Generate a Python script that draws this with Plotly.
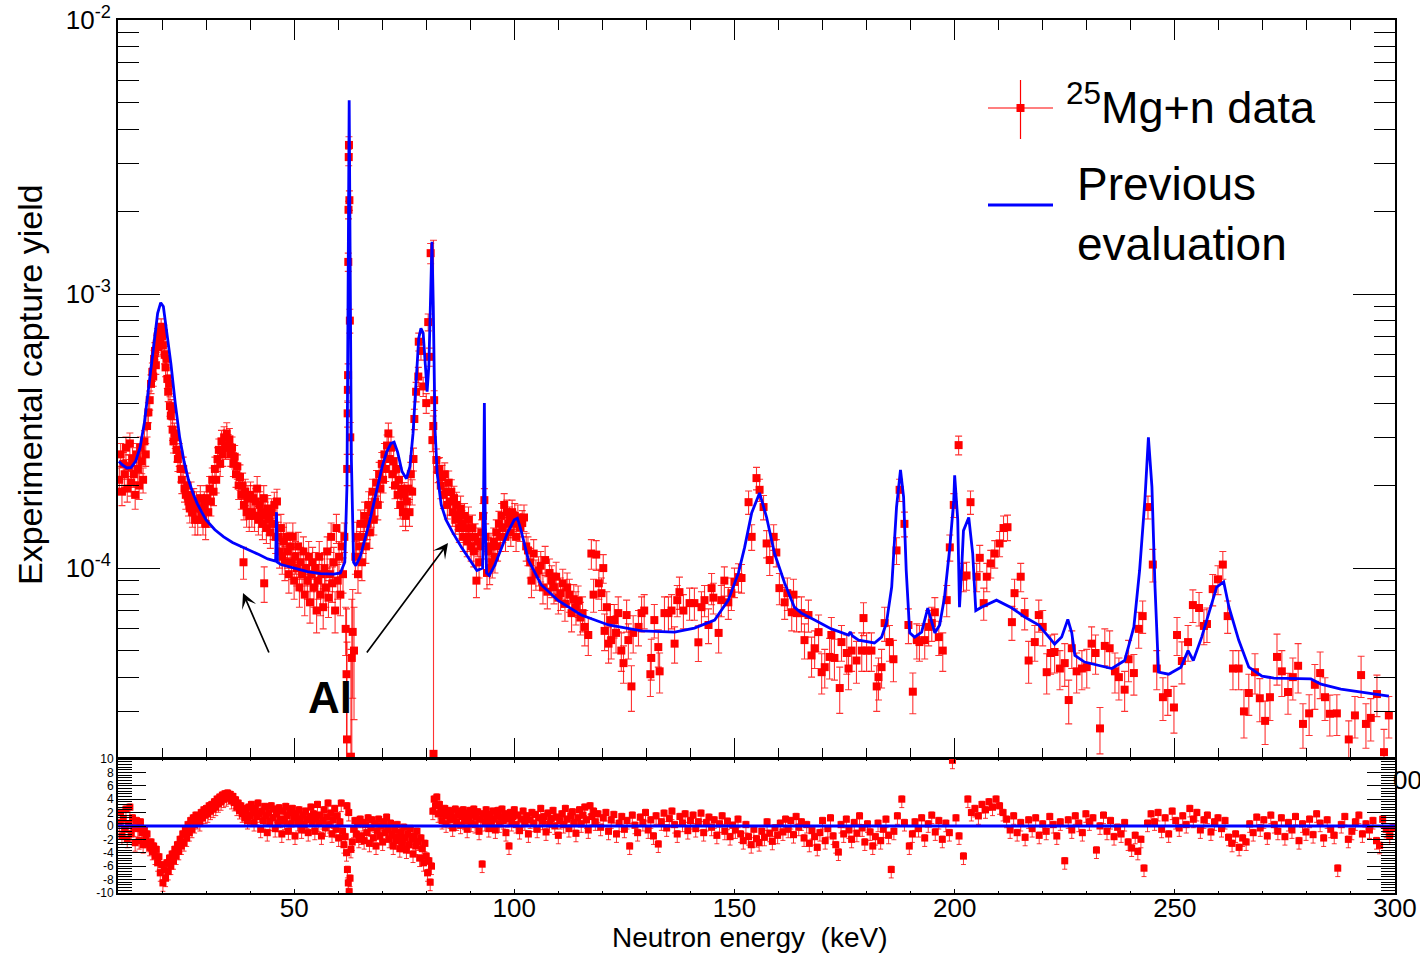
import plotly.graph_objects as go

# ---------------- 25Mg+n capture yield data (yield in units of 1e-4) ----------------
E1 = [10.3,10.6,10.9,11.2,11.5,11.8,12.1,12.4,12.7,13.0,
      13.3,13.6,13.9,14.2,14.5,14.8,15.1,15.4,15.7,16.0,
      16.3,16.6,16.9,17.2,17.5,17.8,18.0,18.2,18.4,18.6,
      18.8,19.0,19.2,19.4,19.6,19.8,20.0,20.2,20.4,20.6,
      20.8,21.0,21.2,21.4,21.6,21.8,22.0,22.2,22.4,22.6,
      22.8,23.0,23.3,23.6,23.9,24.2,24.5,24.8,25.1,25.4,
      25.7,26.0,26.3,26.6,26.9,27.2,27.5,27.8,28.1,28.4,
      28.7,29.0]
Y1 = [2.10,2.60,1.90,2.40,2.20,2.75,1.95,2.35,2.85,2.05,
      2.50,2.20,1.85,2.60,2.30,2.00,2.75,2.45,2.10,2.90,
      2.60,3.30,3.70,4.10,4.70,5.20,5.00,5.80,6.20,5.50,
      6.60,7.00,6.40,7.30,6.80,7.60,7.00,6.50,7.20,6.00,
      5.40,5.80,4.90,4.40,4.70,3.90,3.60,3.80,3.20,2.90,
      3.10,3.00,2.70,2.50,2.60,2.30,2.10,2.30,1.95,1.85,
      2.00,1.75,1.65,1.85,1.60,1.75,1.50,1.70,1.50,1.65,
      1.80,1.60]
D1 = [0.22,0.25,0.21,0.24,0.23,0.26,0.21,0.24,0.26,0.22,
      0.25,0.23,0.21,0.25,0.24,0.22,0.26,0.24,0.22,0.27,
      0.25,0.29,0.31,0.33,0.37,0.40,0.39,0.43,0.45,0.41,
      0.47,0.49,0.46,0.51,0.48,0.52,0.49,0.47,0.50,0.44,
      0.41,0.43,0.38,0.35,0.37,0.32,0.31,0.32,0.28,0.27,
      0.28,0.27,0.26,0.25,0.25,0.24,0.23,0.24,0.21,0.21,
      0.22,0.20,0.19,0.21,0.19,0.20,0.18,0.20,0.18,0.19,
      0.20,0.19]

E2 = [29.3,29.6,29.9,30.2,30.5,30.8,31.1,31.4,31.7,32.0,
      32.3,32.6,32.9,33.2,33.5,33.8,34.1,34.4,34.7,35.0,
      35.3,35.6,35.9,36.2,36.5,36.8,37.1,37.4,37.7,38.0,
      38.3,38.6,38.9,39.2,39.5,39.8,40.1,40.4,40.7,41.0,
      41.3,41.6,41.9,42.2,42.5,42.8,43.1,43.4,43.7,44.0,
      44.3,44.6,44.9,45.2,45.5,45.8,46.1,46.4,46.7,47.0,
      47.3,47.6,47.9,48.2,48.5,48.8,49.1,49.4,49.7,50.0,
      50.3,50.6,50.9,51.2,51.5,51.8,52.1,52.4,52.7,53.0,
      53.3,53.6,53.9,54.2,54.5,54.8,55.1,55.4,55.7,56.0,
      56.3,56.6,56.9,57.2,57.5,57.8,58.1,58.4,58.7,59.0,
      59.3,59.6,59.9,60.2,60.5,60.8,61.1,61.4,61.7,38.5,
      43.2]
Y2 = [1.50,1.70,1.45,1.80,1.60,1.95,1.75,2.10,1.90,2.30,
      2.10,2.50,2.70,2.40,2.90,2.60,3.00,2.75,3.10,2.80,
      2.95,2.60,2.75,2.40,2.55,2.20,2.35,2.00,2.15,1.85,
      2.00,1.70,1.90,1.60,1.80,1.55,1.85,1.60,1.80,1.55,
      1.75,1.95,1.50,1.70,1.60,1.45,1.80,1.55,1.40,1.65,
      1.50,1.35,1.60,1.45,1.70,1.30,1.75,1.30,1.15,1.40,
      1.10,1.25,1.05,1.30,1.15,0.95,1.20,1.05,1.30,0.90,
      1.10,1.00,1.20,0.85,1.05,0.95,1.15,0.80,1.00,0.90,
      1.10,0.75,0.95,1.05,0.85,1.00,0.70,0.90,1.10,0.80,
      0.95,0.72,1.00,0.85,1.15,0.78,0.95,1.30,0.88,1.05,
      0.70,1.40,0.90,1.10,0.80,1.20,0.95,1.30,0.60,1.05,
      0.88]
D2 = [0.18,0.20,0.18,0.20,0.19,0.21,0.20,0.22,0.21,0.24,
      0.22,0.25,0.26,0.24,0.28,0.25,0.28,0.26,0.29,0.27,
      0.28,0.25,0.26,0.24,0.25,0.23,0.24,0.22,0.23,0.21,
      0.22,0.20,0.21,0.19,0.20,0.19,0.21,0.19,0.20,0.19,
      0.20,0.21,0.18,0.20,0.19,0.18,0.20,0.19,0.17,0.19,
      0.18,0.17,0.19,0.18,0.19,0.17,0.19,0.17,0.15,0.17,
      0.15,0.16,0.15,0.16,0.15,0.14,0.15,0.14,0.16,0.13,
      0.15,0.14,0.15,0.13,0.14,0.13,0.15,0.13,0.14,0.13,
      0.15,0.12,0.13,0.14,0.13,0.14,0.12,0.13,0.15,0.13,
      0.13,0.12,0.14,0.13,0.15,0.12,0.13,0.16,0.13,0.14,
      0.12,0.17,0.13,0.15,0.13,0.15,0.14,0.16,0.12,0.14,
      0.13]

E3 = [61.9,62.0,62.05,62.15,62.2,62.25,62.3,62.35,62.4,62.45,
      62.55,62.65,62.75,62.9,63.1,63.3,63.6]
Y3 = [0.41,0.237,2.30,3.67,4.47,5.06,13.1,20.3,31.6,35.0,
      22.0,8.0,3.0,0.205,0.47,0.585,0.50]
D3 = [0.30,0.30,0.30,0.40,0.45,0.50,1.0,1.5,2.2,2.5,
      1.8,0.8,0.4,0.30,0.30,0.25,0.22]

E4 = [63.9,64.2,64.5,64.8,65.1,65.4,65.7,66.0,66.3,66.6,
      66.9,67.2,67.5,67.8,68.1,68.4,68.7,69.0,69.3,69.6,
      69.9,70.2,70.5,70.8,71.1,71.4,71.7,72.0,72.3,72.6,
      72.9,73.2,73.5,73.8,74.1,74.4,74.7,75.0,75.3,75.6,
      75.9,76.2,76.5,76.8,77.1,
      77.3,77.7,78.2,78.3,78.8,79.3,80.0,80.45,80.7,81.0,
      81.4,81.6,81.65,81.8,82.3,82.7]
Y4 = [1.10,1.30,0.95,1.20,1.45,1.05,1.30,1.55,1.20,1.45,
      1.70,1.35,1.60,1.90,1.50,1.75,2.05,1.70,2.20,1.95,
      2.40,2.10,2.60,2.30,2.80,3.10,2.50,2.75,2.20,2.45,
      2.00,2.30,1.85,2.10,1.70,1.95,1.60,1.85,1.55,1.75,
      1.95,1.60,2.20,1.90,2.50,
      3.50,4.40,5.00,6.70,6.20,4.60,4.00,7.90,5.90,14.1,
      2.93,3.30,0.21,4.10,2.48,2.28]
D4 = [0.15,0.17,0.14,0.16,0.18,0.15,0.17,0.19,0.16,0.18,
      0.20,0.17,0.19,0.21,0.18,0.20,0.22,0.20,0.23,0.21,
      0.24,0.22,0.25,0.23,0.26,0.28,0.24,0.26,0.23,0.24,
      0.21,0.23,0.20,0.22,0.19,0.21,0.18,0.20,0.18,0.19,
      0.21,0.18,0.23,0.20,0.24,
      0.30,0.36,0.40,0.50,0.46,0.37,0.33,0.56,0.45,1.20,
      0.27,0.29,15.5,0.34,0.24,0.23]

E5 = [83.0,83.3,83.6,83.9,84.2,84.5,84.8,85.1,85.4,85.7,
      86.0,86.3,86.6,86.9,87.2,87.5,87.8,88.1,88.4,88.7,
      89.0,89.3,89.6,89.9,90.2,90.5,90.8,91.1,91.4,91.7,
      92.0,92.3,92.6,92.9,93.2,93.5,93.8,94.1,94.4,94.7,
      95.0,95.3,95.6,95.9,96.2,96.5,96.8,97.1,97.4,97.7,
      98.0,98.3,98.6,98.9,99.2,99.5,99.8,100.1,100.4]
Y5 = [2.30,2.00,2.15,1.85,2.20,1.90,1.70,2.05,1.75,1.90,
      1.60,1.80,1.50,1.70,1.55,1.40,1.65,1.45,1.30,1.55,
      1.40,1.25,1.50,1.30,1.20,1.40,1.15,1.30,0.90,1.25,
      1.05,1.20,1.35,1.55,1.77,1.30,0.96,1.15,1.00,1.20,
      1.05,1.25,1.10,1.35,1.20,1.45,1.30,1.55,1.40,1.70,
      1.30,1.60,1.45,1.50,1.35,1.60,1.45,1.55,1.30]
D5 = [0.23,0.21,0.22,0.20,0.22,0.20,0.19,0.21,0.19,0.20,
      0.18,0.19,0.17,0.19,0.17,0.16,0.18,0.17,0.15,0.17,
      0.16,0.15,0.17,0.15,0.14,0.16,0.14,0.15,0.12,0.15,
      0.13,0.14,0.15,0.17,0.18,0.15,0.12,0.14,0.13,0.14,
      0.13,0.15,0.14,0.15,0.14,0.16,0.15,0.17,0.16,0.17,
      0.15,0.17,0.16,0.17,0.15,0.17,0.16,0.17,0.15]

E6 = [100.8,101.3,101.8,102.2,102.7,103.1,103.6,103.9,104.4,104.9,
      105.5,106.0,106.5,107.0,107.5,108.0,108.5,109.0,109.5,110.0,
      110.5,111.0,111.5,112.0,112.5,113.0,113.5,114.0,114.5,115.0,
      115.5,116.0,116.8,117.5,118.0,118.6,119.2,119.8,120.2,120.5]
Y6 = [1.53,1.41,1.46,1.53,1.20,1.16,1.05,0.90,1.13,0.95,
      0.98,1.02,0.85,1.07,0.82,0.96,0.90,0.85,0.93,0.78,
      0.81,0.88,0.74,0.85,0.80,0.685,0.77,0.72,0.76,0.66,
      0.685,0.61,0.57,1.13,0.80,1.12,0.88,0.81,1.00,0.59]
D6 = [0.17,0.16,0.16,0.17,0.14,0.14,0.13,0.12,0.14,0.12,
      0.12,0.13,0.11,0.13,0.11,0.12,0.12,0.11,0.12,0.10,
      0.11,0.11,0.10,0.11,0.11,0.10,0.10,0.10,0.10,0.09,
      0.10,0.09,0.09,0.14,0.11,0.14,0.11,0.11,0.12,0.09]

E7 = [121.0,121.4,121.8,122.0,122.7,123.1,123.6,124.3,124.8,125.5,
      125.9,126.6,127.0,128.2,128.9,129.5,130.9,131.1,131.8,132.7,
      133.0,134.1,135.0,135.7,136.4,137.0,137.5,138.4,139.8,140.9,
      141.8,142.5,143.2,144.1,144.8,145.2,146.4,147.0,147.7,148.6,
      149.3,150.0,150.9,151.6,153.2,153.9,155.0,155.7,156.6,157.3,
      158.0,158.9,159.5,160.2,161.4,162.0,163.0,163.4,164.1,165.2]
Y7 = [0.72,0.53,0.646,0.546,0.646,0.58,0.685,0.50,0.45,0.674,
      0.546,0.37,0.58,0.61,0.685,0.70,0.41,0.47,0.646,0.515,
      0.42,0.685,0.685,0.70,0.53,0.764,0.817,0.70,0.745,0.745,
      0.536,0.72,0.764,0.62,0.845,0.78,0.58,0.764,0.90,0.75,
      0.81,0.89,0.927,0.92,1.74,1.30,2.13,1.93,1.67,1.23,
      1.07,1.30,1.14,0.845,0.75,0.81,0.69,0.80,0.685,0.685]
D7 = [0.10,0.08,0.09,0.08,0.09,0.09,0.10,0.08,0.07,0.09,
      0.08,0.07,0.09,0.09,0.10,0.10,0.07,0.08,0.09,0.08,
      0.07,0.10,0.10,0.10,0.08,0.10,0.11,0.10,0.10,0.10,
      0.08,0.10,0.10,0.09,0.11,0.10,0.09,0.10,0.11,0.10,
      0.11,0.11,0.11,0.11,0.17,0.14,0.20,0.18,0.17,0.14,
      0.13,0.14,0.13,0.11,0.10,0.11,0.10,0.11,0.10,0.10]

E8 = [165.9,166.8,167.5,168.2,169.1,169.8,170.5,171.6,172.0,172.7,
      173.9,174.3,175.5,175.9,176.6,177.7,178.9,179.3,180.0,181.1,
      182.3,182.7,183.4,184.1,185.2,186.1,186.8,187.5,188.6,189.5,
      190.5,191.4,192.0,193.2,194.1,194.8,195.5,196.4,197.3,198.2,
      198.9,199.8,200.9,202.0,202.7,203.6,205.0,205.7,206.6,207.3,
      208.2,209.1,210.2,211.1,212.0,213.0,213.6,215.0,215.9,216.8,
      218.2,219.1,220.0,220.9,221.8,222.7,223.9,225.0,225.9,226.6,
      227.7,228.9,230.0,231.1,232.0,233.0]
Y8 = [0.546,0.674,0.48,0.51,0.584,0.417,0.435,0.474,0.57,0.47,
      0.365,0.537,0.49,0.43,0.50,0.46,0.50,0.657,0.50,0.50,
      0.37,0.40,0.435,0.63,0.537,0.465,1.16,1.93,1.45,0.62,
      0.354,0.546,0.537,0.546,0.61,0.63,0.69,0.56,0.50,0.764,
      1.19,1.70,2.81,0.93,0.94,1.74,0.93,1.09,0.745,0.93,
      1.04,1.13,1.23,1.40,1.41,0.635,0.81,0.93,0.685,0.46,
      0.537,0.674,0.61,0.417,0.49,0.494,0.43,0.45,0.33,0.51,
      0.42,0.43,0.435,0.53,0.49,0.26]
D8 = [0.08,0.09,0.08,0.08,0.09,0.07,0.07,0.08,0.09,0.08,
      0.07,0.08,0.08,0.07,0.08,0.08,0.08,0.09,0.08,0.08,
      0.07,0.07,0.07,0.09,0.08,0.08,0.13,0.18,0.15,0.09,
      0.06,0.08,0.08,0.08,0.09,0.09,0.09,0.08,0.08,0.10,
      0.13,0.17,0.22,0.11,0.11,0.17,0.11,0.12,0.10,0.11,
      0.12,0.13,0.13,0.15,0.15,0.09,0.10,0.11,0.09,0.08,
      0.08,0.09,0.09,0.07,0.08,0.08,0.07,0.08,0.06,0.08,
      0.07,0.07,0.07,0.08,0.08,0.05]

E9 = [234.1,235.2,236.4,237.3,238.6,239.5,240.7,241.8,242.7,243.9,
      245.0,245.9,247.3,248.4,249.8,250.5,251.6,253.0,254.1,255.5,
      256.6,257.3,258.6,259.8,260.9,262.0,263.2,264.5,265.7,266.8,
      268.2,269.3,270.5,271.6,273.2,274.3,275.7,276.8,278.0,279.1,
      280.5,281.8,283.0,284.1,285.2,286.8,289.5,290.9,292.3,293.4,
      294.5,295.9,297.5,298.6]
Y9 = [0.52,0.51,0.42,0.40,0.36,0.465,0.414,0.60,0.668,1.67,
      1.03,0.43,0.338,0.35,0.31,0.57,0.458,0.537,0.733,0.715,
      0.615,0.625,0.838,0.91,1.03,0.668,0.43,0.43,0.30,0.35,
      0.417,0.335,0.277,0.338,0.474,0.42,0.353,0.40,0.44,0.27,
      0.295,0.375,0.414,0.338,0.294,0.295,0.237,0.29,0.407,0.27,
      0.284,0.347,0.213,0.29]
D9 = [0.08,0.08,0.07,0.07,0.06,0.08,0.07,0.09,0.09,0.16,
      0.14,0.07,0.06,0.06,0.06,0.09,0.08,0.08,0.10,0.10,
      0.09,0.09,0.11,0.11,0.12,0.09,0.07,0.07,0.06,0.06,
      0.07,0.06,0.05,0.06,0.10,0.08,0.06,0.07,0.09,0.05,
      0.05,0.07,0.08,0.06,0.05,0.05,0.04,0.05,0.07,0.05,
      0.05,0.06,0.045,0.05]

# ---------------- previous evaluation (yield in units of 1e-4) ----------------
EVAL_E = [10.2,11,12,13,14,15,16,17,18,19,19.7,20.3,21,22,23,24,25,26,27,28,29,30,
          32,34,36,38,40,42,44,45.8,46.0,46.2,47,50,53,56,59,60.5,61.5,62.0,62.3,62.5,
          62.7,63.0,63.5,64,65,66,67,68,69,70,71,72,72.7,73.5,74.5,75.5,76.3,77,77.7,
          78.3,78.8,79.3,79.8,80.2,80.6,81.0,81.3,81.6,82.0,82.5,83.4,84.5,86,88,90,
          91.5,92.8,93.0,93.2,93.4,93.7,94.3,95.5,97,98.5,100,100.7,101.5,103.2,106.1,
          110,115.2,121.4,128.9,136.4,140.9,145.5,148.6,150.9,152.3,153.9,155.7,157.3,
          159.1,161.4,163.6,165.2,168.2,172,175.9,176.3,176.8,178.2,181.8,183.4,184.5,
          185.7,186.8,187.7,188.4,189,189.8,190.9,192.5,193.9,195.5,196.6,197.7,198.9,
          199.8,200,200.7,201.1,201.6,202.0,203.2,204.1,204.8,206.1,209.5,213,215.9,
          219.1,221.4,222.7,224.3,225.7,226.6,227.3,229.5,233.4,235.7,238.6,240.7,242,
          243.2,244,244.8,245.5,246.3,248.6,251.4,253,254.2,256.1,257.7,259.5,261.1,
          262.3,264.5,266.8,269.8,272.5,280.9,283.2,287.7,293.9,298.6]
EVAL_Y = [2.45,2.38,2.32,2.33,2.45,2.75,3.4,4.6,6.5,8.5,9.3,9.0,7.4,5.6,4.0,3.0,2.45,2.1,1.88,1.72,1.6,1.5,
          1.38,1.3,1.24,1.2,1.16,1.12,1.08,1.06,1.6,1.05,1.03,1.0,0.97,0.955,0.95,0.96,1.05,2.0,15,51,
          15,2.5,1.05,1.02,1.1,1.25,1.45,1.7,2.0,2.35,2.65,2.85,2.88,2.65,2.25,2.12,2.35,3.1,4.8,
          6.9,7.5,7.2,5.5,4.4,5.5,9.5,15.5,9.0,3.2,2.2,1.70,1.5,1.35,1.19,1.06,
          0.98,1.0,1.6,4.0,1.5,0.96,0.94,1.02,1.18,1.35,1.5,1.52,1.38,1.07,0.87,
          0.76,0.674,0.62,0.59,0.584,0.604,0.646,0.764,0.96,1.19,1.59,1.88,1.53,
          1.13,0.88,0.72,0.685,0.646,0.60,0.57,0.585,0.565,0.546,0.533,0.56,0.63,
          0.853,1.67,2.28,1.82,0.98,0.58,0.56,0.584,0.715,0.58,0.62,0.784,1.19,
          1.77,2.18,1.5,0.72,1.0,1.37,1.53,1.13,0.70,0.72,0.764,0.715,0.663,
          0.62,0.56,0.528,0.56,0.65,0.58,0.48,0.454,0.44,0.43,0.46,0.61,0.98,
          1.77,3.0,1.98,0.853,0.417,0.41,0.435,0.50,0.46,0.56,0.685,0.853,0.89,
          0.72,0.546,0.435,0.403,0.397,0.394,0.377,0.362,0.35,0.341]

# ---------------- residuals (lower pad) ----------------
RA_E = [10.3,10.6,10.9,11.2,11.5,11.8,12.1,12.4,12.7,13.0,
        13.3,13.6,13.9,14.2,14.5,14.8,15.1,15.4,15.7,16.0,
        16.3,16.6,16.9,17.2,17.5,17.8,18.1,18.4,18.7,19.0,
        19.3,19.6,19.9,20.2,20.5,20.8,21.1,21.4,21.7,22.0,
        22.3,22.6,22.9,23.2,23.5,23.8,24.1,24.4,24.7,25.0,
        25.3,25.6,25.9,26.2,26.5,26.8,27.1,27.4,27.7,28.0,
        28.3,28.6,28.9,29.2,29.5,29.8,30.1,30.4,30.7,31.0,
        31.3,31.6,31.9,32.2,32.5,32.8,33.1,33.4,33.7,34.0,
        34.3,34.6,34.9,35.2,35.5,35.8,36.1,36.4,36.7,37.0,
        37.3,37.6,37.9,38.2,38.5,38.8,39.1,39.4,39.7,40.0,
        40.3,40.6,40.9,41.2,41.5,41.8,42.1,42.4,42.7,43.0,
        43.3,43.6,43.9,44.2,44.5,44.8,45.1,45.4,45.7,46.0,
        46.3,46.6,46.9,47.2,47.5,47.8,48.1,48.4,48.7,49.0,
        49.3,49.6,49.9,50.2,50.5,50.8,51.1,51.4,51.7,52.0,
        52.3,52.6,52.9,53.2,53.5,53.8,54.1,54.4,54.7,55.0,
        55.3,55.6,55.9,56.2,56.5,56.8,57.1,57.4,57.7,58.0,
        58.3,58.6,58.9,59.2,59.5,59.8,60.1,60.4,60.7]
RA_R = [0.5,2.0,-1.5,1.0,-0.5,2.5,-2.0,0.3,2.8,-1.2,
        1.2,-0.3,-2.5,0.8,-0.4,-2.2,0.6,-1.0,-2.8,-0.6,
        -2.0,-1.2,-2.6,-3.2,-2.4,-3.8,-3.0,-4.5,-3.5,-5.5,
        -4.6,-7.0,-5.8,-8.5,-6.5,-7.8,-5.5,-6.8,-4.8,-6.0,
        -4.2,-5.2,-3.5,-4.5,-2.8,-3.8,-2.0,-3.0,-1.2,-2.5,
        -0.5,-1.8,0.2,-1.0,0.8,-0.5,1.2,0.2,1.6,0.8,
        1.4,0.5,2.0,1.2,2.4,1.6,2.6,1.8,3.0,2.2,
        3.2,2.5,3.6,2.8,4.0,3.3,4.3,3.6,4.6,4.0,
        4.8,4.2,4.9,4.5,4.7,3.8,4.4,3.5,3.9,2.8,
        3.4,2.3,3.0,1.8,2.6,1.2,2.2,0.8,2.8,1.5,
        3.2,2.0,0.5,2.6,1.4,3.4,1.8,-0.5,2.2,0.8,
        2.9,1.5,-1.0,2.0,0.6,3.0,1.2,2.5,-0.4,1.8,
        0.4,2.7,1.0,-1.2,2.2,0.7,2.9,1.5,-0.8,2.0,
        0.3,2.6,1.2,-1.5,1.8,0.5,2.4,1.0,-0.6,1.6,
        0.2,2.2,0.9,-1.0,1.4,2.8,0.6,1.8,-0.8,1.1,
        3.2,0.4,1.6,-1.5,0.8,2.4,-0.3,1.3,3.4,0.2,
        1.9,-1.2,0.9,2.6,-0.5,1.5,-1.8,0.6,3.4]

RB_E = [61.0,61.3,61.6,61.9,62.0,62.1,62.3,62.4,62.5,62.7,
        62.9,63.2,63.5,63.8,64.1,64.4,64.7,65.0,
        65.3,65.6,65.9,66.2,66.5,66.8,67.1,67.4,67.7,68.0,
        68.3,68.6,68.9,69.2,69.5,69.8,70.1,70.4,70.7,71.0,
        71.3,71.6,71.9,72.2,72.5,72.8,73.1,73.4,73.7,74.0,
        74.3,74.6,74.9,75.2,75.5,75.8,76.1,76.4,76.7,77.0,
        77.3,77.6,77.9,78.2,78.5,78.8,79.1,79.4,79.7,80.0,
        80.3,80.6,80.9,81.2,
        81.5,81.8,82.1,82.4,82.7,83.0]
RB_R = [-0.8,-2.8,-1.6,-4.0,3.0,-6.5,-8.5,2.0,-9.8,-7.8,
        -3.5,-2.4,-0.5,0.8,-1.2,0.4,-2.0,1.0,
        -1.5,0.5,-2.2,0.2,-1.0,1.2,-2.6,-0.3,0.9,-1.8,
        0.3,-3.0,-0.8,1.0,-1.5,0.0,-2.4,0.6,-1.0,1.3,
        -0.5,-2.0,0.4,-1.3,-3.0,-0.6,-2.2,0.2,-1.6,-3.4,
        -0.9,-2.6,-0.2,-1.8,-3.6,-1.2,-2.8,-0.4,-2.0,-4.2,
        -1.5,-3.0,-0.8,-2.4,-4.8,-1.8,-3.4,-5.5,-2.6,-4.5,
        -7.0,-5.2,-8.4,-6.0,
        2.2,4.0,3.0,4.3,1.8,3.2]

RC_E = [83.3,83.6,83.9,84.2,84.5,84.8,85.1,85.4,85.7,86.0,
        86.3,86.6,86.9,87.2,87.5,87.8,88.1,88.4,88.7,89.0,
        89.3,89.6,89.9,90.2,90.5,90.8,91.1,91.4,91.7,92.0,
        92.3,92.7,93.0,93.3,93.6,93.9,94.2,94.5,94.8,95.1,
        95.4,95.7,96.0,96.3,96.6,96.9,97.2,97.5,97.8,98.1,
        98.4,98.8,99.1,99.4,99.7,100.0,100.4,100.8,101.2,101.6,
        102.0,102.4,102.8,103.2,103.6,104.0,104.4,104.8,105.2,105.6,
        106.0,106.4,106.8,107.2,107.6,108.0,108.4,108.8,109.2,109.6,
        110.0,110.4,110.8,111.2,111.6,112.0,112.4,112.8,113.2,113.6,
        114.0,114.4,114.8,115.2,115.6,116.0,116.4,116.8,117.2,117.6,
        118.0,118.4]
RC_R = [2.4,0.8,1.8,2.6,0.3,1.5,2.3,0.9,1.9,-0.3,
        1.2,2.5,0.6,1.7,2.2,0.1,1.4,2.4,0.7,1.9,
        -0.5,1.1,2.3,0.4,1.6,2.5,0.2,1.3,2.1,-0.8,
        1.0,-5.7,1.8,0.5,2.4,1.2,-0.4,1.7,0.6,2.2,
        1.0,-0.6,1.5,2.3,0.3,1.3,2.5,0.8,1.8,-1.0,
        1.1,-3.0,2.0,0.5,1.4,2.4,0.2,1.6,-0.7,1.0,
        2.2,0.6,1.5,-1.2,0.9,2.0,0.4,1.7,-0.5,1.2,
        2.6,0.7,1.4,-0.9,1.9,0.3,1.1,2.3,0.0,1.3,
        -1.4,0.8,1.8,0.2,2.6,1.0,-0.4,1.5,2.1,0.5,
        -1.1,1.2,2.4,0.3,1.6,2.8,0.9,-0.6,3.0,1.4,
        2.2,0.6]

RD_E = [119.0,119.6,120.2,120.8,121.4,122.0,122.6,123.2,123.8,124.4,
        125.0,125.6,126.2,126.8,127.4,128.0,128.6,129.2,129.8,130.4,
        131.0,131.6,132.2,132.7,133.4,134.0,134.6,135.2,135.8,136.4,
        137.0,137.6,138.2,138.8,139.4,140.0,140.6,141.2,141.8,142.4,
        143.0,143.6,144.2,144.8,145.4,146.0,146.6,147.2,147.8,148.4,
        149.0,149.6,150.2,150.8,151.4,152.0,152.6,153.2,153.8,154.4,
        155.0,155.6,156.2,156.8,157.4,158.0,158.6,159.2,159.8,160.4,
        161.0]
RD_R = [1.8,-0.2,1.2,2.0,-0.8,0.9,1.7,-1.2,0.4,1.4,
        -0.5,0.8,-3.0,1.6,0.1,-1.0,1.3,0.5,2.0,-0.6,
        0.9,-1.5,1.5,-2.7,0.6,1.9,-0.3,1.1,2.2,0.2,
        -1.2,1.4,0.4,1.8,-0.7,0.8,1.6,-0.4,0.6,1.9,
        -1.0,0.5,1.3,-0.2,0.9,-1.4,0.3,1.5,-0.8,0.7,
        -1.6,0.1,-0.6,1.0,-1.2,-2.2,0.2,-1.6,-2.8,-0.5,
        -1.9,-2.5,-0.8,-1.7,0.6,-1.1,-2.3,-0.3,-1.4,0.4,
        -0.9]

RE_E = [161.6,162.2,162.8,163.4,164.0,164.6,165.2,165.8,166.4,167.0,
        167.6,168.2,168.8,169.4,170.0,170.6,171.2,171.8,172.4,173.0,
        173.6,174.2,174.8,175.4,176.0,176.6,177.2,177.8,178.4,179.0,
        179.6,180.2,180.8,181.4,182.0,182.6,183.2,183.8,184.4,185.0,
        185.6,186.2,187.0,188.0,188.6,189.7,190.4,191.0,191.8,192.5,
        193.2,194.0,194.8,195.6,196.4,197.2,198.0,198.8,199.5,200.3,
        201.0,202.0,203.0,203.8,204.6,205.4,206.2,207.0,207.8,208.6,
        209.4,210.2,211.0,211.8,212.6,213.4,214.2,215.0,216.0,216.8,
        217.6,218.4,219.2,220.0,220.8,221.6,222.4,223.2,224.0,225.0,
        225.8,226.6,227.4,228.2,229.0,229.8,230.6,231.4,232.2,233.0,
        233.8,234.6,235.4]
RE_R = [1.0,-0.5,0.8,-1.3,1.4,-0.2,0.6,-1.8,0.2,-2.6,
        -0.7,-1.6,-3.2,-1.0,0.8,-2.2,-0.4,1.2,-1.5,-2.8,
        -3.9,0.2,-1.2,1.0,-0.6,-2.0,0.5,-1.1,1.5,-0.3,
        -2.4,0.3,-0.9,-3.0,-1.6,0.4,-2.2,-0.5,1.0,-1.4,
        -6.5,-0.8,1.5,4.0,0.5,-3.0,-1.2,0.6,-0.4,1.2,
        -1.8,0.3,1.6,-0.9,0.8,-2.0,0.4,-1.0,9.8,1.2,
        -1.5,-4.5,4.0,2.0,2.6,1.5,3.2,2.4,3.6,2.8,
        4.0,3.0,2.0,1.0,-0.6,1.5,-1.0,0.5,-1.7,0.9,
        -0.4,1.2,-1.4,0.3,-0.8,1.4,0.2,-1.5,0.6,-5.2,
        0.9,-0.6,1.5,0.4,-1.0,1.8,0.6,1.2,-3.6,0.0,
        1.6,-0.8,0.8]

RF_E = [236.2,237.0,237.8,238.6,239.4,240.2,241.0,241.6,242.3,243.0,
        243.8,244.6,245.4,246.2,247.0,247.8,248.6,249.4,250.2,251.0,
        251.8,252.6,253.4,254.2,255.0,255.8,256.6,257.4,258.2,259.0,
        259.8,260.6,261.4,262.2,263.0,263.8,264.6,265.4,266.2,267.0,
        267.8,268.6,269.4,270.2,271.0,271.8,272.6,273.4,274.2,275.0,
        275.8,276.6,277.4,278.2,279.0,279.8,280.6,281.4,282.2,283.0,
        283.8,284.6,285.4,286.2,287.0,287.8,288.6,289.4,290.2,291.0,
        291.8,292.6,293.4,294.2,295.0,295.8,296.5,297.2,298.0,298.8,
        299.5]
RF_R = [-1.6,-0.2,-1.2,0.5,-2.4,-3.3,-1.4,-3.8,-2.0,-6.3,
        0.4,1.8,0.6,2.0,-0.5,1.2,-1.2,2.2,0.8,-0.3,
        1.5,0.2,2.6,1.0,2.0,-0.6,0.9,1.6,-0.9,0.6,
        1.2,-0.4,0.8,-1.7,-2.6,-1.2,-3.2,-1.8,-2.4,0.3,
        -1.0,1.3,-0.3,0.9,-1.5,1.6,0.2,-0.8,1.2,-1.6,
        0.5,-0.6,1.4,-2.2,0.3,-0.9,1.0,-1.3,1.8,0.4,
        -1.8,0.9,-0.5,-1.4,-6.3,0.2,1.4,-2.0,-0.8,0.6,
        1.6,-1.2,0.3,-0.6,0.8,-2.2,-2.9,1.0,-0.5,-1.5,
        -0.3]

# ---------------- assemble ----------------
data_segments = [(E1, Y1, D1), (E2, Y2, D2), (E3, Y3, D3), (E4, Y4, D4), (E5, Y5, D5),
                 (E6, Y6, D6), (E7, Y7, D7), (E8, Y8, D8), (E9, Y9, D9)]
data_E, data_Y, data_D = [], [], []
for i, (e, y, d) in enumerate(data_segments):
    if not (len(e) == len(y) == len(d)):
        raise ValueError(f"data segment {i+1}: {len(e)} {len(y)} {len(d)}")
    data_E += e
    data_Y += [v * 1e-4 for v in y]
    data_D += [v * 1e-4 for v in d]

if len(EVAL_E) != len(EVAL_Y):
    raise ValueError(f"eval: {len(EVAL_E)} {len(EVAL_Y)}")
eval_Y = [v * 1e-4 for v in EVAL_Y]

res_segments = [(RA_E, RA_R), (RB_E, RB_R), (RC_E, RC_R), (RD_E, RD_R), (RE_E, RE_R), (RF_E, RF_R)]
res_E, res_R = [], []
for i, (e, r) in enumerate(res_segments):
    if len(e) != len(r):
        raise ValueError(f"residual segment {i}: {len(e)} {len(r)}")
    res_E += e
    res_R += r

RED = "#ff0000"
BLUE = "#0000ff"
FONT = "Liberation Sans, Arial, Helvetica, sans-serif"

W, H = 1420, 953
L, R, T, B = 118, 25, 20, 60
PW, PH = W - L - R, H - T - B


def px_x(px):
    return (px - L) / PW


def px_y(py):
    return (H - B - py) / PH


fig = go.Figure()

fig.add_trace(go.Scatter(
    x=data_E, y=data_Y, mode="markers", xaxis="x", yaxis="y",
    marker=dict(symbol="square", size=8, color=RED, line=dict(width=0)),
    error_y=dict(type="data", array=data_D, visible=True, color="rgba(255,0,0,0.8)",
                 thickness=1.1, width=3.5),
    showlegend=False, hoverinfo="skip"))

fig.add_trace(go.Scatter(
    x=EVAL_E, y=eval_Y, mode="lines", xaxis="x", yaxis="y",
    line=dict(color=BLUE, width=2.8), showlegend=False, hoverinfo="skip"))

fig.add_trace(go.Scatter(
    x=res_E, y=res_R, mode="markers", xaxis="x2", yaxis="y2",
    marker=dict(symbol="square", size=7, color=RED, line=dict(width=0)),
    error_y=dict(type="constant", value=0.5, valueminus=1.25, symmetric=False,
                 color="rgba(255,0,0,0.8)", thickness=1, width=2.5),
    showlegend=False, hoverinfo="skip"))

fig.add_trace(go.Scatter(
    x=[10, 300], y=[0, 0], mode="lines", xaxis="x2", yaxis="y2",
    line=dict(color=BLUE, width=2.8), showlegend=False, hoverinfo="skip"))

upper_bottom = px_y(758)
lower_top = px_y(759)

minor_log = [m * 10.0 ** p for p in (-5, -4, -3) for m in range(2, 10)]
res_ticks = list(range(-10, 11, 2))

axis_common = dict(showline=True, linecolor="black", linewidth=1.8, mirror="ticks",
                   showgrid=False, zeroline=False, ticks="inside", tickcolor="black",
                   tickwidth=1.3, automargin=False)

fig.update_layout(
    width=W, height=H, autosize=False,
    margin=dict(l=L, r=R, t=T, b=B, pad=0, autoexpand=False),
    paper_bgcolor="white", plot_bgcolor="white",
    font=dict(family=FONT, color="black"),
    xaxis=dict(domain=[0, 1], anchor="y", range=[10, 300], tick0=0, dtick=50, ticklen=20,
               showticklabels=False,
               minor=dict(dtick=10, tick0=0, ticklen=10, ticks="inside", tickcolor="black",
                          tickwidth=1.3),
               **axis_common),
    yaxis=dict(domain=[upper_bottom, 1], anchor="x", type="log", range=[-4.693, -2],
               tickmode="array", tickvals=[1e-4, 1e-3, 1e-2],
               ticktext=["10<sup>-4</sup>", "10<sup>-3</sup>", "10<sup>-2</sup>"],
               ticklen=42, tickfont=dict(size=26, family=FONT),
               minor=dict(tickmode="array", tickvals=minor_log, ticklen=21, ticks="inside",
                          tickcolor="black", tickwidth=1.3),
               **axis_common),
    xaxis2=dict(domain=[0, 1], anchor="y2", range=[10, 300], tick0=0, dtick=50, ticklen=4,
                tickfont=dict(size=26, family=FONT), ticklabelstandoff=-9,
                minor=dict(dtick=10, tick0=0, ticklen=2, ticks="inside", tickcolor="black"),
                **axis_common),
    yaxis2=dict(domain=[0, lower_top], anchor="x2", range=[-10, 10],
                tickmode="array", tickvals=res_ticks, ticktext=[str(v) for v in res_ticks],
                ticklen=28, tickfont=dict(size=12, family=FONT),
                minor=dict(dtick=0.4, tick0=0, ticklen=14, ticks="inside", tickcolor="black",
                           tickwidth=1.1),
                **axis_common),
)

annotations = [
    dict(text="Experimental capture yield", x=px_x(30), y=px_y(385), xref="paper", yref="paper",
         showarrow=False, textangle=-90, font=dict(size=34, family=FONT),
         xanchor="center", yanchor="middle"),
    dict(text="Neutron energy\u00a0 (keV)", x=px_x(749), y=px_y(937), xref="paper", yref="paper",
         showarrow=False, font=dict(size=28, family=FONT), xanchor="center", yanchor="middle"),
    dict(text="00", x=px_x(1391), y=px_y(780), xref="paper", yref="paper", showarrow=False,
         font=dict(size=26, family=FONT), xanchor="left", yanchor="middle"),
    dict(text="<sup>25</sup>Mg+n data", x=px_x(1064), y=px_y(104), xref="paper", yref="paper",
         showarrow=False, font=dict(size=45, family=FONT), xanchor="left", yanchor="middle"),
    dict(text="Previous", x=px_x(1075), y=px_y(184), xref="paper", yref="paper",
         showarrow=False, font=dict(size=46, family=FONT), xanchor="left", yanchor="middle"),
    dict(text="evaluation", x=px_x(1075), y=px_y(244), xref="paper", yref="paper",
         showarrow=False, font=dict(size=46, family=FONT), xanchor="left", yanchor="middle"),
    dict(text="<b>Al</b>", x=px_x(330), y=px_y(697), xref="paper", yref="paper",
         showarrow=False, font=dict(size=44, family=FONT), xanchor="center", yanchor="middle"),
    dict(text=" ", x=px_x(243), y=px_y(593), xref="paper", yref="paper", showarrow=True,
         ax=27, ay=62, arrowhead=3, arrowsize=1.5, arrowwidth=1.7, arrowcolor="black",
         standoff=0, font=dict(size=2)),
    dict(text=" ", x=px_x(448), y=px_y(543), xref="paper", yref="paper", showarrow=True,
         ax=-83, ay=112, arrowhead=3, arrowsize=1.5, arrowwidth=1.7, arrowcolor="black",
         standoff=0, font=dict(size=2)),
]
fig.update_layout(annotations=annotations)

shapes = [
    dict(type="line", xref="paper", yref="paper", x0=px_x(988), x1=px_x(1053),
         y0=px_y(108), y1=px_y(108), line=dict(color=RED, width=1.2)),
    dict(type="line", xref="paper", yref="paper", x0=px_x(1020.5), x1=px_x(1020.5),
         y0=px_y(80), y1=px_y(139), line=dict(color=RED, width=1.2)),
    dict(type="rect", xref="paper", yref="paper", x0=px_x(1016.5), x1=px_x(1024.5),
         y0=px_y(104), y1=px_y(112), fillcolor=RED, line=dict(width=0)),
    dict(type="line", xref="paper", yref="paper", x0=px_x(988), x1=px_x(1053),
         y0=px_y(205), y1=px_y(205), line=dict(color=BLUE, width=3)),
]
fig.update_layout(shapes=shapes)

fig.write_html("out.html")
